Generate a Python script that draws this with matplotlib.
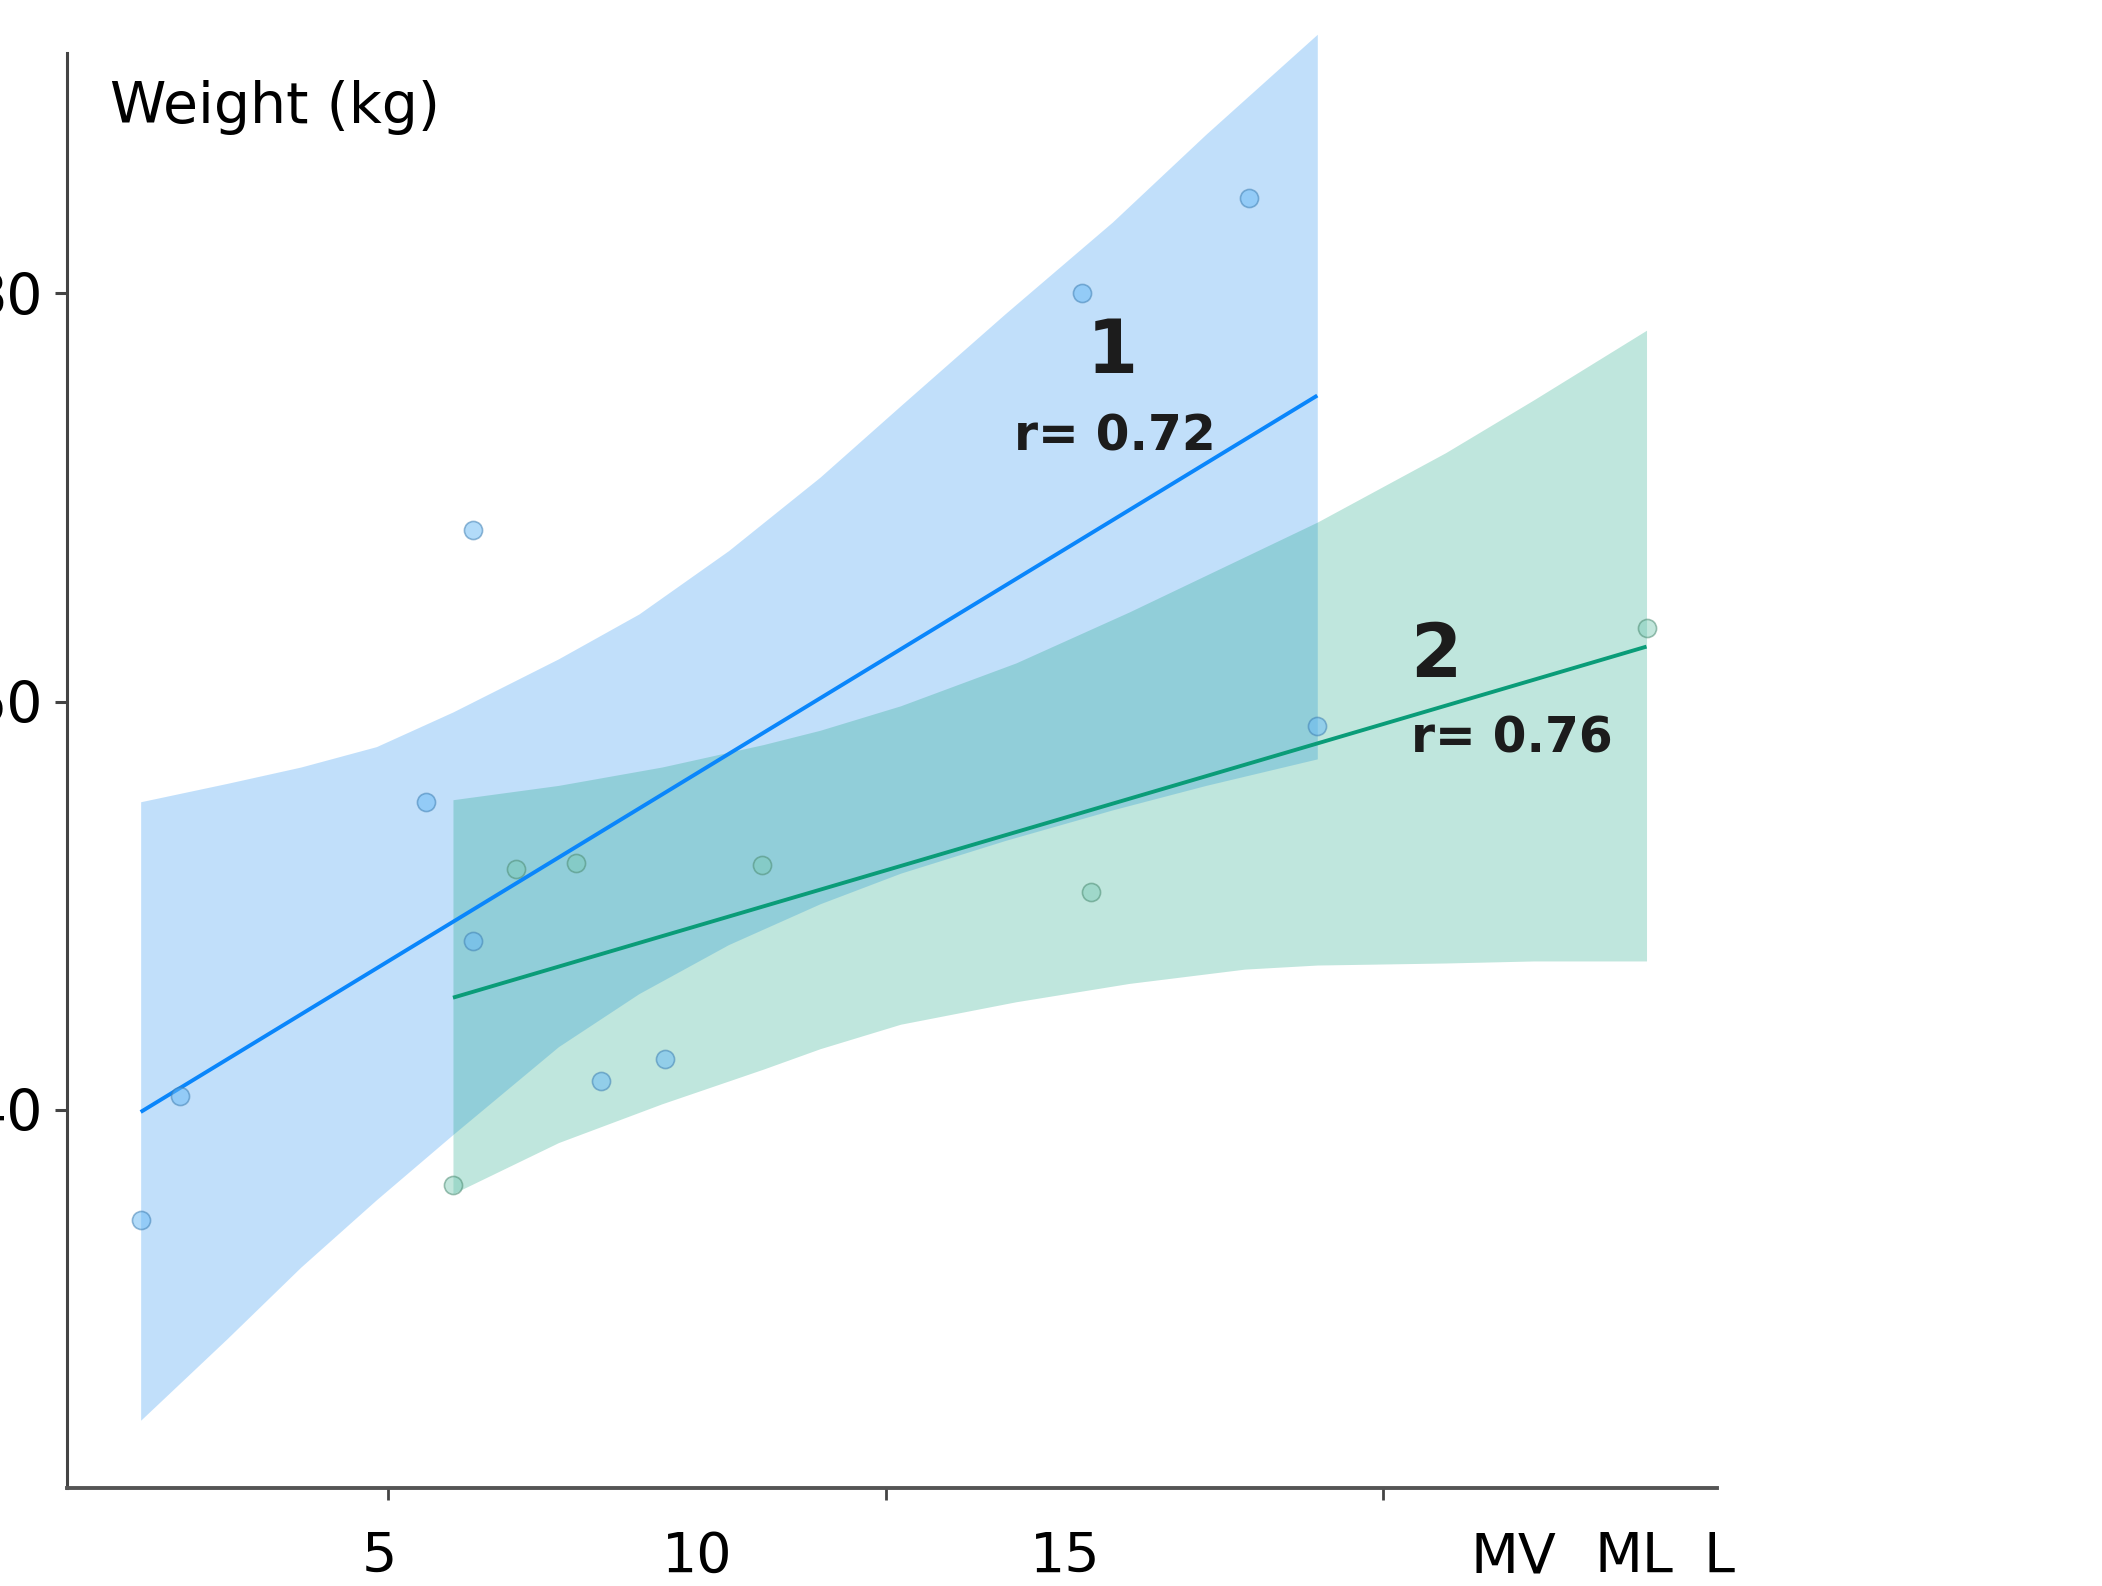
import matplotlib
matplotlib.use('Agg')
import matplotlib.pyplot as plt

# group 1 (blue) points
g1_x = [2.51, 2.91, 5.38, 5.85, 5.85, 7.14, 7.78, 11.97, 13.65, 14.34]
g1_y = [34.6, 40.7, 55.1, 68.4, 48.3, 41.4, 42.5, 80.0, 84.7, 58.8]
# group 2 (green) points
g2_x = [5.65, 6.28, 6.89, 8.76, 12.06, 17.65]
g2_y = [36.3, 51.8, 52.1, 52.0, 50.7, 63.6]

# fitted lines (end points)
fit1_x = [2.51, 14.34]
fit1_y = [39.9, 75.0]
fit2_x = [5.65, 17.65]
fit2_y = [45.5, 62.7]

# confidence bands
band1_x = [2.51, 3.38, 4.12, 4.88, 5.65, 6.71, 7.52, 8.42, 9.34, 10.15, 11.20, 12.28, 13.22, 14.34]
band1_hi = [55.1, 56.0, 56.8, 57.8, 59.5, 62.1, 64.3, 67.4, 71.0, 74.5, 79.0, 83.5, 87.8, 92.7]
band1_lo = [24.8, 28.8, 32.3, 35.6, 38.8, 43.1, 45.7, 48.1, 50.1, 51.6, 53.2, 54.7, 55.9, 57.2]
band2_x = [5.65, 6.71, 7.75, 8.77, 9.34, 10.15, 11.31, 12.45, 13.61, 14.34, 15.63, 16.52, 17.65]
band2_hi = [55.2, 55.9, 56.8, 57.9, 58.6, 59.8, 61.9, 64.4, 67.1, 68.8, 72.2, 74.8, 78.2]
band2_lo = [35.9, 38.4, 40.3, 42.0, 43.0, 44.2, 45.3, 46.2, 46.9, 47.1, 47.2, 47.3, 47.3]

r1 = 0.72
r2 = 0.76

y_ticks = [40, 60, 80]
x_ticks = [5, 10, 15]
x_label_pos = [4.91, 8.11, 11.81, 16.31, 17.52, 18.38]
x_label_txt = ['5', '10', '15', 'MV', 'ML', 'L']

BLUE = '#0a86fb'
GREEN = '#0a9c78'

fig = plt.figure(figsize=(21.02, 15.86), dpi=100)
ax = fig.add_axes([0.0319, 0.0618, 0.785, 0.9269])

ax.fill_between(band1_x, band1_lo, band1_hi, color='#1a8cf0', alpha=0.27, lw=0, clip_on=False)
ax.fill_between(band2_x, band2_lo, band2_hi, color='#0a9f7c', alpha=0.26, lw=0, clip_on=False)
ax.plot(fit1_x, fit1_y, color=BLUE, lw=2.8, solid_capstyle='butt')
ax.plot(fit2_x, fit2_y, color=GREEN, lw=2.8, solid_capstyle='butt')

ax.scatter(g1_x, g1_y, s=170, facecolor=(0.40, 0.72, 0.96, 0.5),
           edgecolor=(0.25, 0.50, 0.70, 0.55), lw=1.2, zorder=3)
ax.scatter(g2_x, g2_y, s=170, facecolor=(0.47, 0.79, 0.70, 0.45),
           edgecolor=(0.30, 0.55, 0.45, 0.55), lw=1.2, zorder=3)

# annotations
ax.text(12.28, 77.1, '1', fontsize=53, fontweight='bold', color='#1c1c1c',
        ha='center', va='center')
ax.text(11.29, 73.0, 'r= %.2f' % r1, fontsize=35, fontweight='bold', color='#1c1c1c',
        ha='left', va='center')
ax.text(15.53, 62.2, '2', fontsize=53, fontweight='bold', color='#1c1c1c',
        ha='center', va='center')
ax.text(15.28, 58.2, 'r= %.2f' % r2, fontsize=35, fontweight='bold', color='#1c1c1c',
        ha='left', va='center')

ax.text(2.2, 89.13, 'Weight (kg)', fontsize=41, ha='left', va='center')

ax.set_xlim(1.77, 18.36)
ax.set_ylim(21.48, 93.5)

for s in ['top', 'right']:
    ax.spines[s].set_visible(False)
ax.spines['left'].set_bounds(21.48, 91.76)
ax.spines['left'].set_linewidth(2.2)
ax.spines['bottom'].set_linewidth(2.8)
ax.spines['left'].set_color('#444444')
ax.spines['bottom'].set_color('#555555')

ax.set_yticks(y_ticks)
ax.set_yticklabels([str(v) for v in y_ticks])
ax.tick_params(axis='y', length=8.5, width=2.2, color='#444444', pad=9, labelsize=41)

ax.set_xticks(x_ticks)
ax.set_xticklabels([])
ax.tick_params(axis='x', length=8.5, width=2, color='#444444')

# x labels sit between the ticks, as in the original
tr = ax.get_xaxis_transform()
for pos, txt in zip(x_label_pos, x_label_txt):
    ax.text(pos, -0.0655, txt, transform=tr, fontsize=40, ha='center', va='bottom',
            clip_on=False)

fig.savefig('out.png', dpi=100)
